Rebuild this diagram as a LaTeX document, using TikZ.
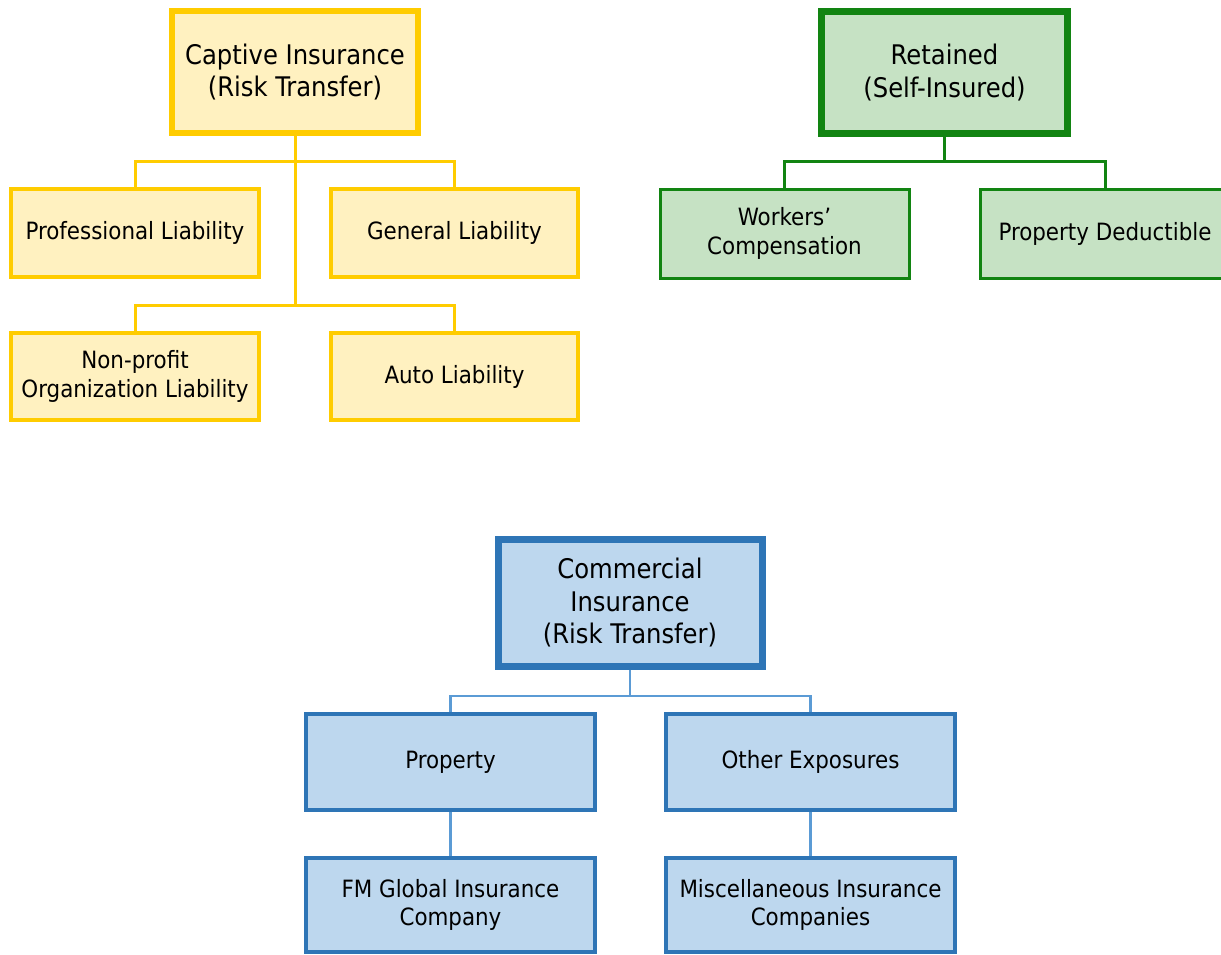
\documentclass[tikz,border=0pt]{standalone}
\usepackage{fontspec}
\setmainfont{DejaVu Sans Condensed}
\definecolor{capline}{RGB}{255,204,0}
\definecolor{capfill}{RGB}{255,241,192}
\definecolor{retline}{RGB}{18,132,18}
\definecolor{retfill}{RGB}{198,226,196}
\definecolor{comline}{RGB}{46,117,182}
\definecolor{comfill}{RGB}{189,215,238}
\definecolor{comlink}{RGB}{91,155,213}
\tikzset{
  x=1pt, y=-1pt,
  box/.style={rectangle, align=center, inner sep=0pt, text=black},
  head/.style={box, font=\fontsize{27}{32.5}\selectfont},
  leaf/.style={box, font=\fontsize{23.8}{28.5}\selectfont},
  caphead/.style={head, draw=capline, fill=capfill, line width=6pt},
  capleaf/.style={leaf, draw=capline, fill=capfill, line width=4pt},
  rethead/.style={head, draw=retline, fill=retfill, line width=6.5pt},
  retleaf/.style={leaf, draw=retline, fill=retfill, line width=3pt},
  comhead/.style={head, draw=comline, fill=comfill, line width=7pt},
  comleaf/.style={leaf, draw=comline, fill=comfill, line width=3.5pt},
  caplink/.style={draw=capline, line width=3pt},
  retlink/.style={draw=retline, line width=3pt},
  comlink/.style={draw=comlink, line width=2.5pt},
}
\begin{document}
\begin{tikzpicture}
\useasboundingbox (0,0) rectangle (1221,955);
\clip (0,0) rectangle (1221,955);

% Captive insurance branch
\node[caphead, minimum width=246pt, minimum height=122pt] (cap) at (295,72) {Captive Insurance\\(Risk Transfer)};
\node[capleaf, minimum width=248pt, minimum height=88.5pt] (prof) at (135,233) {Professional Liability};
\node[capleaf, minimum width=247pt, minimum height=88.5pt] (gen) at (454.5,233) {General Liability};
\node[capleaf, minimum width=248pt, minimum height=87pt] (npo) at (135,376.5) {Non-profit\\Organization Liability};
\node[capleaf, minimum width=247pt, minimum height=87pt] (auto) at (454.5,376.5) {Auto Liability};
\coordinate (cj1) at (295,162);
\coordinate (cj2) at (295,305);
\draw[caplink] (cap.south) -- (cj2);
\draw[caplink] (prof.north) |- (cj1) -| (gen.north);
\draw[caplink] (npo.north) |- (cj2) -| (auto.north);

% Retained branch
\node[rethead, minimum width=246pt, minimum height=122pt] (ret) at (944.5,72.5) {Retained\\(Self-Insured)};
\node[retleaf, minimum width=249pt, minimum height=89pt] (wc) at (784.5,233.5) {Workers’\\Compensation};
\node[retleaf, minimum width=249pt, minimum height=89pt] (pd) at (1105,233.5) {Property Deductible};
\coordinate (rj) at (944.5,162);
\draw[retlink] (ret.south) -- (rj);
\draw[retlink] (wc.north) |- (rj) -| (pd.north);

% Commercial insurance branch
\node[comhead, minimum width=264pt, minimum height=126.5pt] (com) at (630,602.75) {Commercial\\Insurance\\(Risk Transfer)};
\node[comleaf, minimum width=289pt, minimum height=96pt] (prop) at (450.5,762) {Property};
\node[comleaf, minimum width=289pt, minimum height=96pt] (oth) at (810.5,762) {Other Exposures};
\node[comleaf, minimum width=289pt, minimum height=94pt] (fm) at (450.5,905) {FM Global Insurance\\Company};
\node[comleaf, minimum width=289pt, minimum height=94pt] (misc) at (810.5,905) {Miscellaneous Insurance\\Companies};
\coordinate (bj) at (630,696);
\draw[comlink] (com.south) -- (bj);
\draw[comlink] (prop.north) |- (bj) -| (oth.north);
\draw[comlink] (prop.south) -- (fm.north);
\draw[comlink] (oth.south) -- (misc.north);
\end{tikzpicture}
\end{document}
